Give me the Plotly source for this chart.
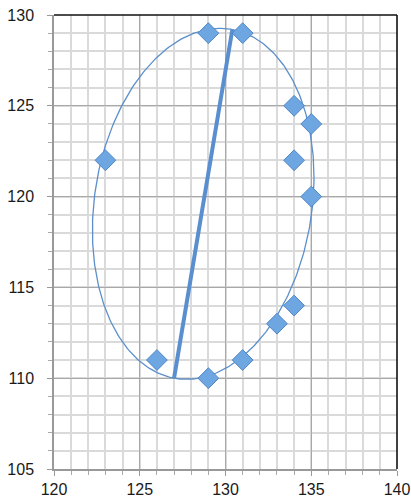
import numpy as np
import plotly.graph_objects as go

# Data points (diamonds)
pts_x = [129, 131, 123, 134, 135, 134, 135, 134, 133, 131, 129, 126]
pts_y = [129, 129, 122, 125, 124, 122, 120, 114, 113, 111, 110, 111]

# Major axis segment endpoints
axis_x = [127.0, 130.4]
axis_y = [110.0, 129.2]

# Ellipse parameters: centre, half-major vector, minor semi-length
ell_center = (128.7, 119.6)
ell_major = (1.7, 9.6)
ell_minor_len = 6.33

x_ticks = [120, 125, 130, 135, 140]
y_ticks = [105, 110, 115, 120, 125, 130]

# Build ellipse outline from parameters
t = np.linspace(0, 2 * np.pi, 361)
ax_, ay_ = ell_major
alen = np.hypot(ax_, ay_)
bx_, by_ = ay_ / alen * ell_minor_len, -ax_ / alen * ell_minor_len
ex = ell_center[0] + ax_ * np.cos(t) + bx_ * np.sin(t)
ey = ell_center[1] + ay_ * np.cos(t) + by_ * np.sin(t)

fig = go.Figure()
fig.add_trace(go.Scatter(x=ex, y=ey, mode="lines",
                         line=dict(color="#5b8fcb", width=1.3),
                         hoverinfo="skip", showlegend=False))
fig.add_trace(go.Scatter(x=axis_x, y=axis_y, mode="lines",
                         line=dict(color="#5a8fcf", width=4),
                         showlegend=False))
fig.add_trace(go.Scatter(x=pts_x, y=pts_y, mode="markers",
                         marker=dict(symbol="diamond", size=16, color="#6ea6e2",
                                     line=dict(color="#4f86c6", width=1)),
                         showlegend=False))

grid_major = "#a8a8a8"
grid_minor = "#dadada"
tfont = dict(family="Liberation Sans", size=16, color="#1a1a1a")
for upd, rng, tv, so in ((fig.update_xaxes, [120, 140], x_ticks, 0),
                         (fig.update_yaxes, [105, 130], y_ticks, 10)):
    upd(range=rng, tickvals=tv, showgrid=True, automargin=False,
        gridcolor=grid_major, gridwidth=1.3,
        showline=True, linecolor="#999999", linewidth=1.5,
        ticks="outside", ticklen=5, tickcolor="#999999",
        ticklabeloverflow="allow", ticklabelstandoff=so,
        minor=dict(dtick=1, showgrid=True, gridcolor=grid_minor, gridwidth=1.7,
                   ticks="outside", ticklen=4, tickcolor="#aaaaaa"),
        zeroline=False, tickfont=tfont)

fig.add_shape(type="line", xref="x domain", yref="y domain", x0=0, x1=1, y0=1, y1=1,
              line=dict(color="#111111", width=1.6))
fig.add_shape(type="line", xref="x domain", yref="y domain", x0=1, x1=1, y0=0, y1=1,
              line=dict(color="#111111", width=1.6))

fig.update_layout(width=411, height=499, margin=dict(l=54, r=14, t=15, b=30, autoexpand=False),
                  plot_bgcolor="white", paper_bgcolor="white")

# remove the default page margin so the figure fills the window exactly
fig.write_html("out.html", config={"displayModeBar": False},
               post_script="document.body.style.margin='0';document.body.style.overflow='hidden';")
